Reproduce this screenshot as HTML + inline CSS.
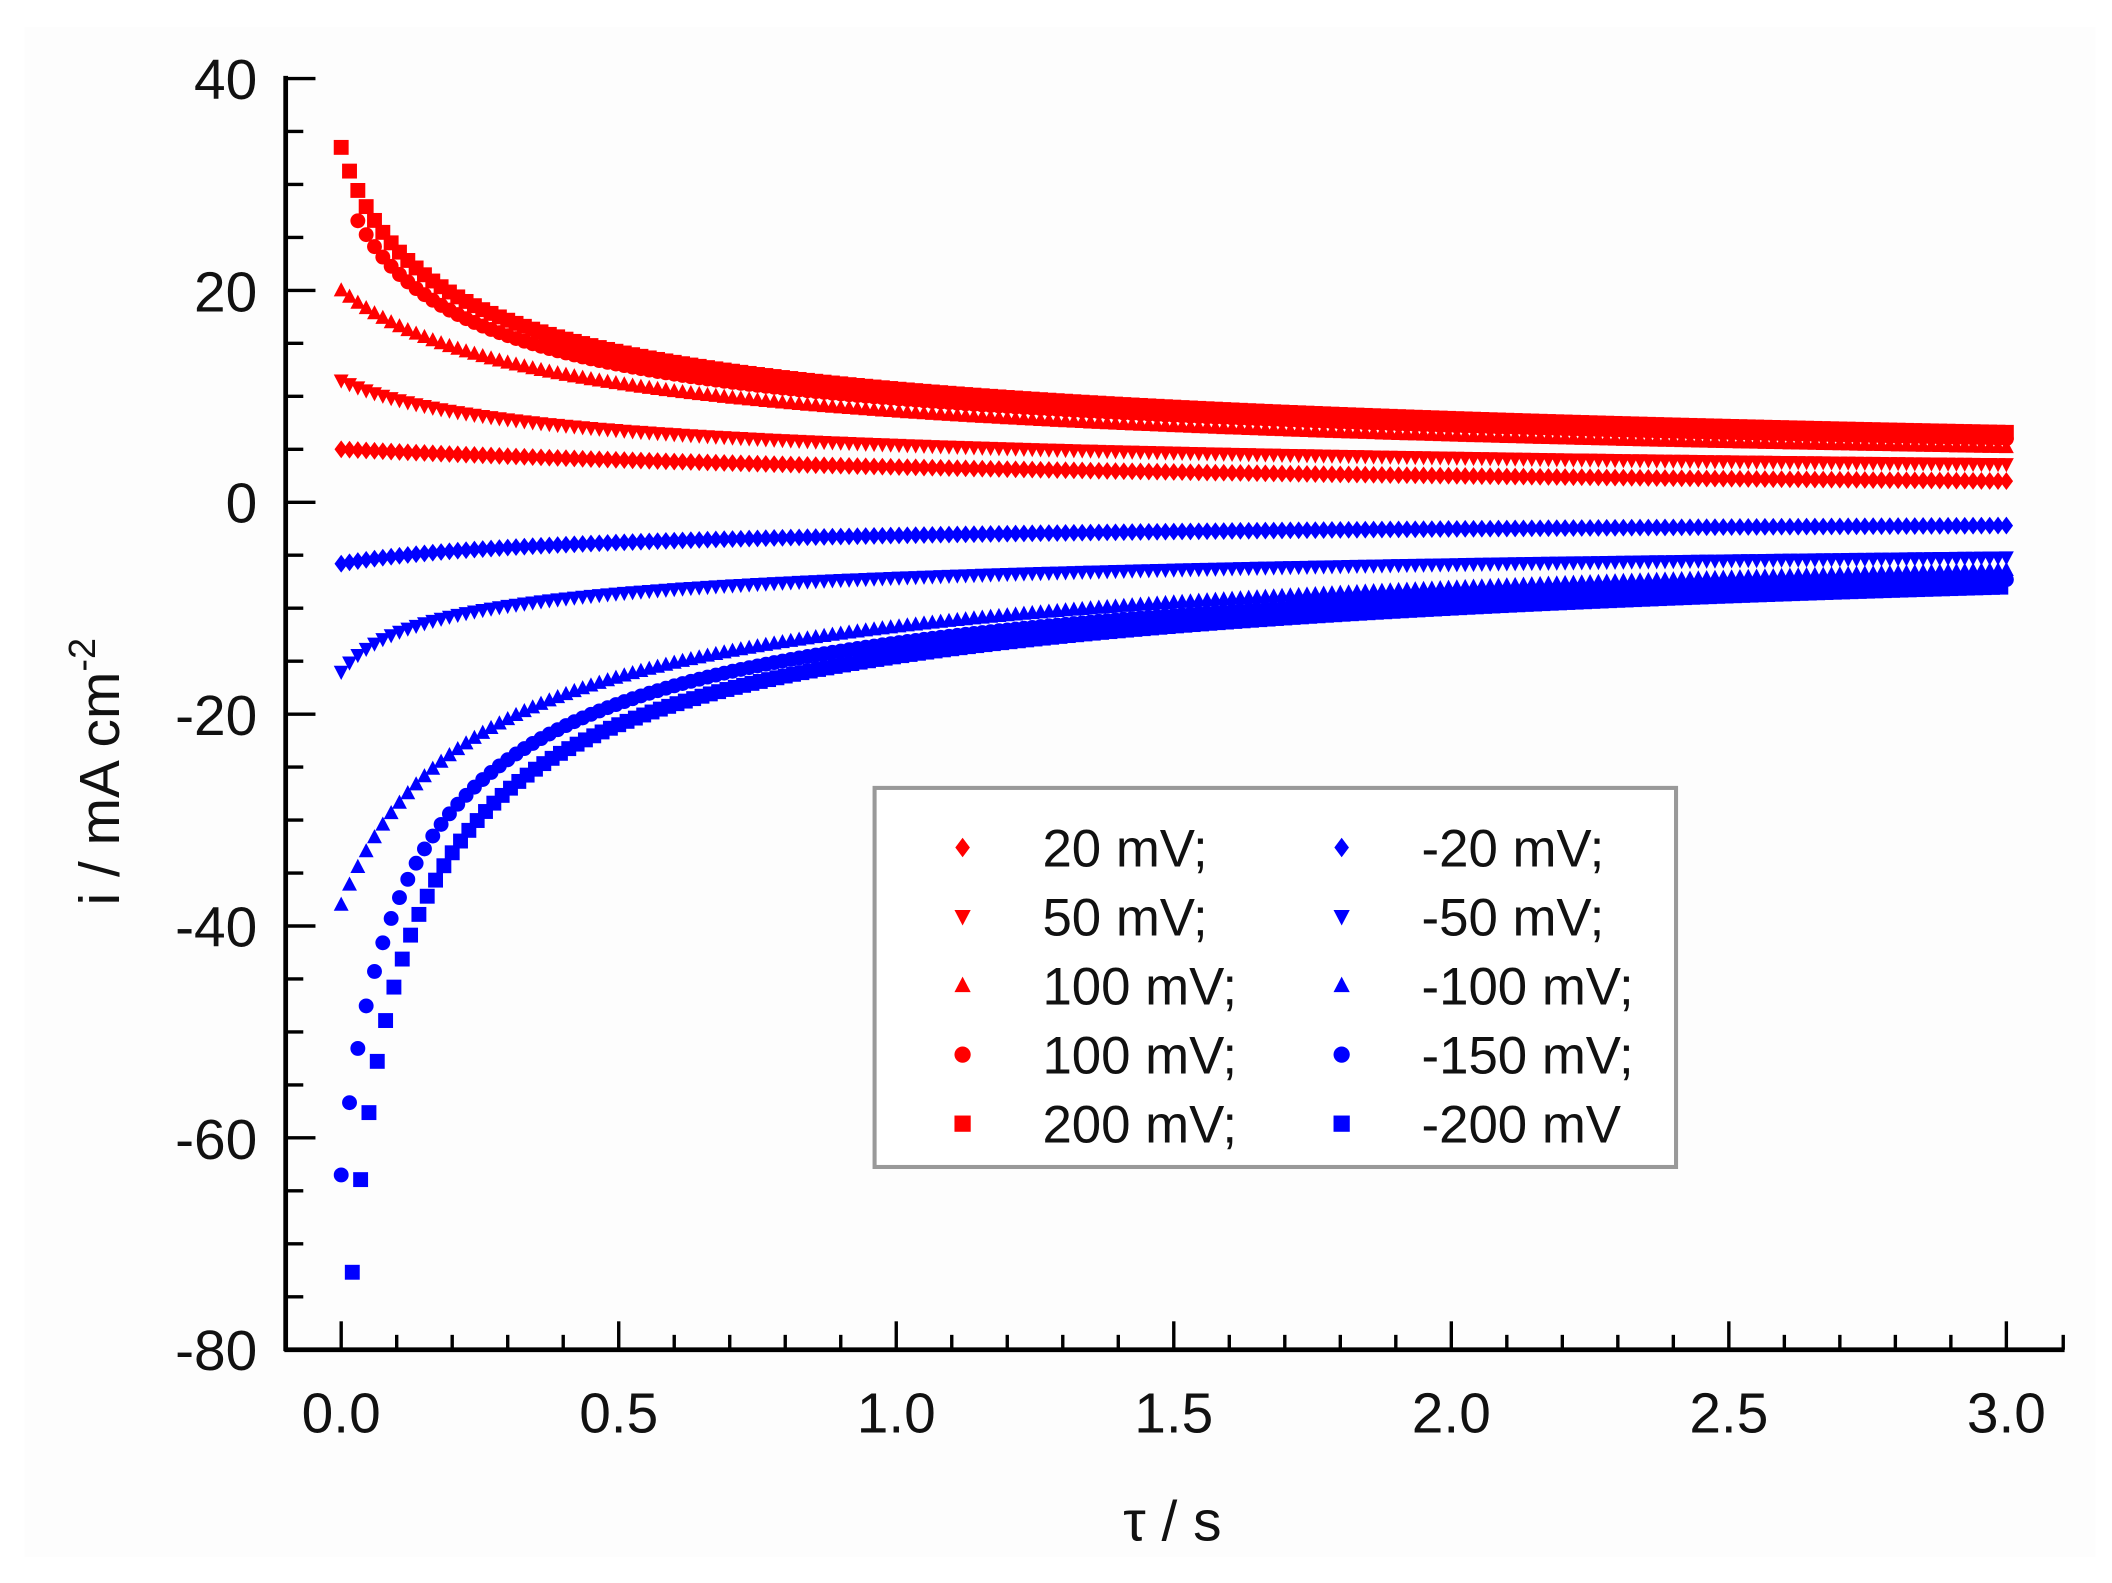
<!DOCTYPE html>
<html><head><meta charset="utf-8"><style>
html,body{margin:0;padding:0;background:#fff;}
svg{display:block;}
text{font-family:"Liberation Sans",Arial,sans-serif;fill:#111;}
</style></head><body>
<svg id="s" width="2112" height="1583" viewBox="0 0 1560 1169.3" xmlns="http://www.w3.org/2000/svg">
<rect x="0" y="0" width="1560" height="1170" fill="#fff"/>
<rect x="18" y="20" width="1530" height="1130" fill="#fdfdfd"/>
<g id="data"></g>
<g id="axes" stroke="#000" stroke-width="3.5" fill="none">
<line x1="211" y1="56" x2="211" y2="998"/>
<line x1="210" y1="997" x2="1525" y2="997"/>
</g>
<g id="ticks" stroke="#000" stroke-width="2.5"></g>
<g id="labels" font-size="42" text-anchor="end">
<text x="190" y="73">40</text>
<text x="190" y="230">20</text>
<text x="190" y="386">0</text>
<text x="190" y="543">-20</text>
<text x="190" y="699">-40</text>
<text x="190" y="856">-60</text>
<text x="190" y="1012">-80</text>
</g>
<g font-size="42" text-anchor="middle">
<text x="252" y="1058">0.0</text>
<text x="457" y="1058">0.5</text>
<text x="662" y="1058">1.0</text>
<text x="867" y="1058">1.5</text>
<text x="1072" y="1058">2.0</text>
<text x="1277" y="1058">2.5</text>
<text x="1482" y="1058">3.0</text>
<text x="866" y="1138">τ / s</text>
</g>
<text font-size="42" text-anchor="middle" transform="translate(88,570) rotate(-90)">i / mA cm<tspan font-size="28" dy="-18">-2</tspan></text>
<rect x="646" y="582" width="592" height="280" fill="#fff" stroke="#999" stroke-width="3"/>
<g id="leg" font-size="39"></g>
</svg>
<script>
var NS="http://www.w3.org/2000/svg";
function X(t){return 252+410*t;}
function Y(v){return 371-7.825*v;}
function mk(type,x,y,c,s){
  var e;
  if(type=="sq"){e=document.createElementNS(NS,"rect");e.setAttribute("x",x-s/2);e.setAttribute("y",y-s/2);e.setAttribute("width",s);e.setAttribute("height",s);}
  else if(type=="ci"){e=document.createElementNS(NS,"circle");e.setAttribute("cx",x);e.setAttribute("cy",y);e.setAttribute("r",s/2);}
  else{var p;var h=s/2;
    if(type=="up")p=[x,y-h*1.1,x+h,y+h*0.8,x-h,y+h*0.8];
    else if(type=="dn")p=[x,y+h*1.1,x+h,y-h*0.8,x-h,y-h*0.8];
    else p=[x,y-h*1.2,x+h*0.9,y,x,y+h*1.2,x-h*0.9,y];
    e=document.createElementNS(NS,"polygon");e.setAttribute("points",p.join(","));}
  e.setAttribute("fill",c);return e;
}
function fit(i0,i5,i3){
  var s=i0<0?-1:1;i0=Math.abs(i0);i5=Math.abs(i5);i3=Math.abs(i3);
  var target=Math.log(i0/i3)/Math.log(i5/i3);
  var lo=1e-4,hi=100;
  for(var k=0;k<100;k++){var m=Math.sqrt(lo*hi);
    var r=Math.log((3+m)/m)/Math.log((3+m)/(0.5+m));
    if(r>target)lo=m;else hi=m;}
  var t0=Math.sqrt(lo*hi);var p=Math.log(i5/i3)/Math.log((3+t0)/(0.5+t0));
  var A=i3*Math.pow(3+t0,p);
  return function(t){return s*A*Math.pow(t+t0,-p);};
}
var series=[
 ["dia","#f00",5,4.0,2.0,0],
 ["dn","#f00",11.5,6.8,3.6,0],
 ["up","#f00",20,11.2,5.2,0],
 ["ci","#f00",30,13.0,6.0,0.03],
 ["sq","#f00",33.5,14.2,6.6,0],
 ["dia","#00f",-5.8,-3.8,-2.2,0],
 ["dn","#00f",-16,-8.6,-5.2,0],
 ["up","#00f",-38,-16.5,-6.4,0],
 ["ci","#00f",-63.5,-19,-7.3,0],
 ["sq","#00f",-92,-21,-8.0,0.02]
];
var g=document.getElementById("data");
series.forEach(function(s){
  var f=fit(s[2],s[3],s[4]);
  for(var t=s[5];t<=3.0001;t+=0.015){
    g.appendChild(mk(s[0],X(t),Y(f(t)),s[1],11));
  }
});
var tk=document.getElementById("ticks");
function ln(x1,y1,x2,y2){var l=document.createElementNS(NS,"line");l.setAttribute("x1",x1);l.setAttribute("y1",y1);l.setAttribute("x2",x2);l.setAttribute("y2",y2);tk.appendChild(l);}
for(var i=0;i<=30;i++){var x=X(i/10);ln(x,997,x,i%5==0?976:986);}
ln(1524,997,1524,986);
for(var v=40;v>=-80;v-=5){var y=Y(v);ln(211,y,v%20==0?233:224,y);}
var leg=document.getElementById("leg");
var L=[["dia","#f00","20 mV;"],["dn","#f00","50 mV;"],["up","#f00","100 mV;"],["ci","#f00","100 mV;"],["sq","#f00","200 mV;"]];
var R=[["dia","#00f","-20 mV;"],["dn","#00f","-50 mV;"],["up","#00f","-100 mV;"],["ci","#00f","-150 mV;"],["sq","#00f","-200 mV"]];
for(var k=0;k<5;k++){var y=626+51*k;
  leg.appendChild(mk(L[k][0],711,y,L[k][1],12));
  leg.appendChild(mk(R[k][0],991,y,R[k][1],12));
  var t1=document.createElementNS(NS,"text");t1.setAttribute("x",770);t1.setAttribute("y",y+14);t1.textContent=L[k][2];leg.appendChild(t1);
  var t2=document.createElementNS(NS,"text");t2.setAttribute("x",1050);t2.setAttribute("y",y+14);t2.textContent=R[k][2];leg.appendChild(t2);
}
</script>
</body></html>
